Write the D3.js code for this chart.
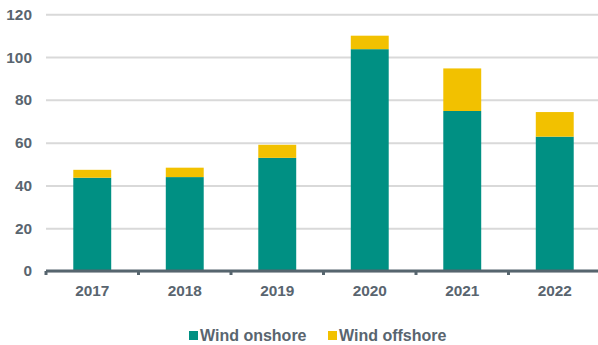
<!DOCTYPE html>
<html>
<head>
<meta charset="utf-8">
<script src="https://cdn.jsdelivr.net/npm/d3@7"></script>
<style>
  body { margin: 0; background: #fff; }
  svg text { font-family: "Liberation Sans", Arial, sans-serif; font-weight: bold; fill: #59656f; }
</style>
</head>
<body>
<script>
// chart data
var years = ["2017", "2018", "2019", "2020", "2021", "2022"];
var onshore = [43.6, 43.9, 52.9, 103.7, 74.8, 62.8];
var offshore = [3.7, 4.4, 6.1, 6.3, 19.9, 11.5];
var yTicks = [0, 20, 40, 60, 80, 100, 120];
var seriesNames = ["Wind onshore", "Wind offshore"];
var colors = ["#009083", "#f2c100"];

var width = 598, height = 345;
var plotLeft = 46, plotRight = 601, plotTop = 14.3, plotBottom = 271;

var svg = d3.select('body').append('svg').attr('width', width).attr('height', height);

var rows = years.map(function(y, i) {
    return { year: y, on: onshore[i], off: offshore[i] };
});
var stacked = d3.stack().keys(["on", "off"])(rows);

var x = d3.scaleBand().domain(years).range([plotLeft, plotRight]);
var y = d3.scaleLinear().domain([0, 120]).range([plotBottom, plotTop]);

// gridlines + y labels
var yAxis = svg.append('g')
    .attr('transform', 'translate(' + plotLeft + ',0)')
    .call(d3.axisLeft(y).tickValues(yTicks).tickSize(-(width - plotLeft)).tickPadding(14));
yAxis.select('.domain').remove();
yAxis.selectAll('line').attr('stroke', '#d9d9d9').attr('stroke-width', 2);
yAxis.selectAll('text').attr('font-size', '15.4px').attr('fill', '#59656f');

// bars
var bw = x.bandwidth() * 0.41;
svg.selectAll('g.series')
    .data(stacked)
    .join('g')
    .attr('class', 'series')
    .attr('fill', function(d, i) { return colors[i]; })
    .selectAll('rect')
    .data(function(d) { return d; })
    .join('rect')
    .attr('x', function(d) { return x(d.data.year) + (x.bandwidth() - bw) / 2; })
    .attr('width', bw)
    .attr('y', function(d) { return y(d[1]); })
    .attr('height', function(d) { return y(d[0]) - y(d[1]); });

// x axis line with ticks between categories
var xAxis = svg.append('g');
xAxis.append('line')
    .attr('x1', plotLeft).attr('x2', width)
    .attr('y1', y(0)).attr('y2', y(0))
    .attr('stroke', '#56656e').attr('stroke-width', 3);
xAxis.selectAll('rect.tick')
    .data(years)
    .join('rect')
    .attr('class', 'tick')
    .attr('x', function(d) { return x(d) - 1.5; })
    .attr('y', y(0))
    .attr('width', 3).attr('height', 4)
    .attr('fill', '#56656e');
xAxis.selectAll('text')
    .data(years)
    .join('text')
    .attr('x', function(d) { return x(d) + x.bandwidth() / 2; })
    .attr('y', 296)
    .attr('text-anchor', 'middle')
    .attr('font-size', '15.4px')
    .text(function(d) { return d; });

// legend
var legendX = [189, 328];
var legend = svg.selectAll('g.legend')
    .data(seriesNames)
    .join('g')
    .attr('class', 'legend')
    .attr('transform', function(d, i) { return 'translate(' + legendX[i] + ',331)'; });
legend.append('rect')
    .attr('width', 9).attr('height', 9)
    .attr('fill', function(d, i) { return colors[i]; });
legend.append('text')
    .attr('x', 11).attr('y', 9.8)
    .attr('font-size', '16px')
    .text(function(d) { return d; });
</script>
</body>
</html>
